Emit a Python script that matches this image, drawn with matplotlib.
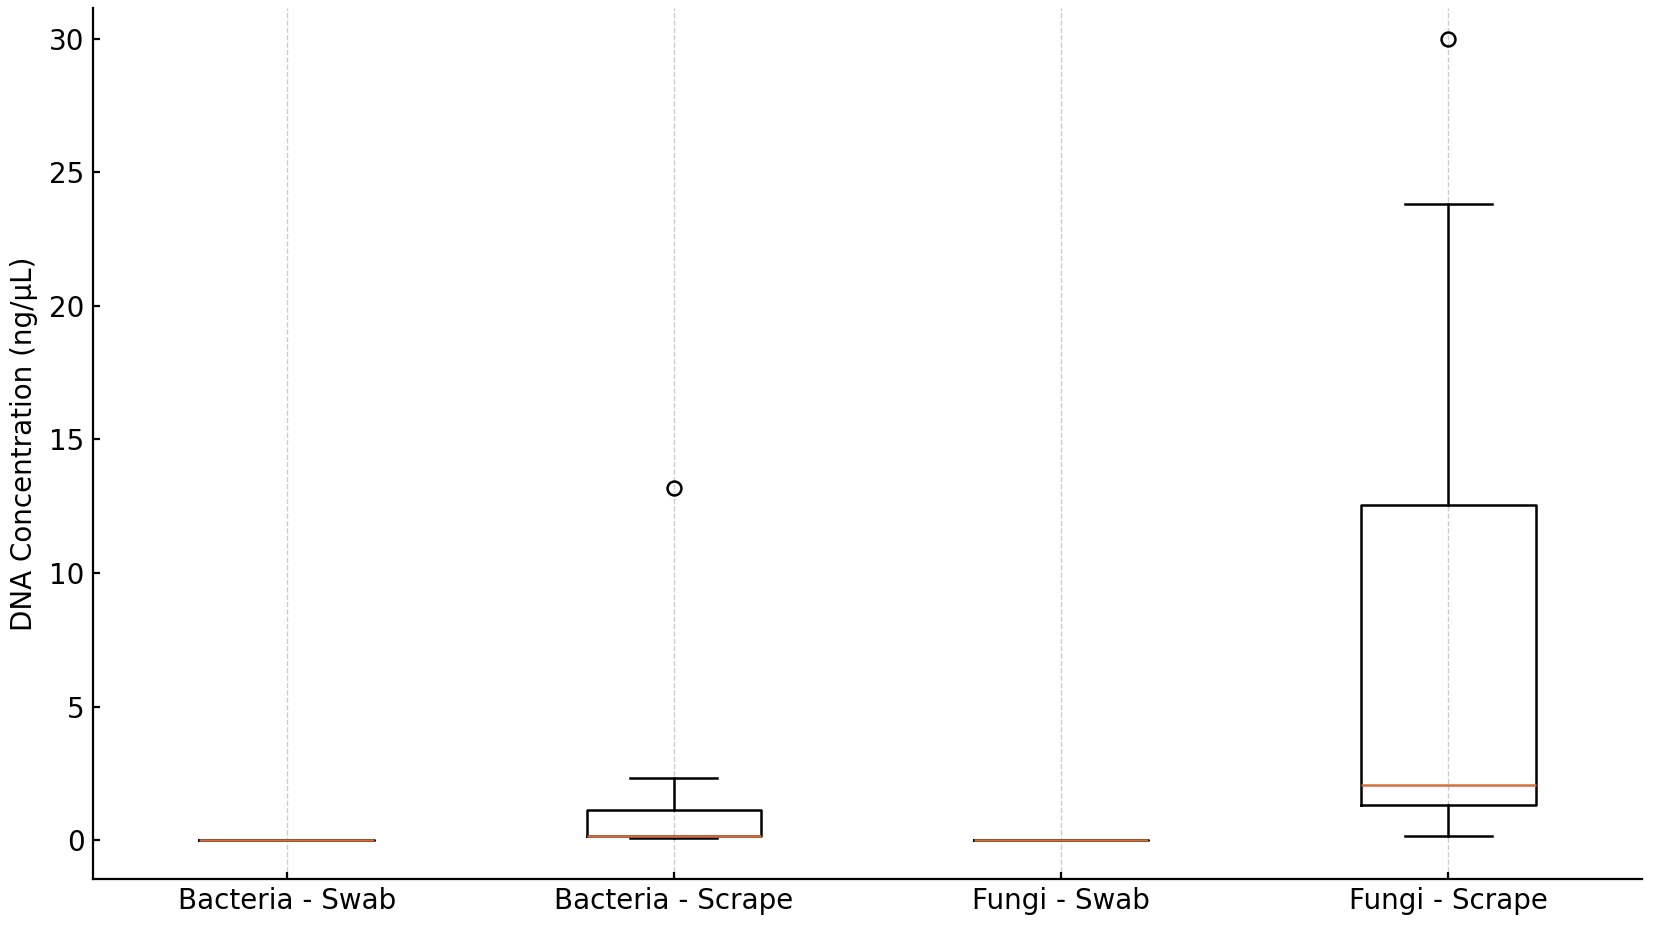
import matplotlib
matplotlib.use("Agg")
import matplotlib.pyplot as plt

# Values
categories = ["Bacteria - Swab", "Bacteria - Scrape", "Fungi - Swab", "Fungi - Scrape"]
medians = [0.0, 0.15, 0.0, 2.08]
q1 = [0.0, 0.15, 0.0, 1.33]
q3 = [0.0, 1.15, 0.0, 12.55]
whisker_low = [0.0, 0.07, 0.0, 0.15]
whisker_high = [0.0, 2.33, 0.0, 23.8]
outliers = [[], [13.2], [], [30.0]]

stats = []
for i, name in enumerate(categories):
    stats.append({
        "label": name,
        "med": medians[i],
        "q1": q1[i],
        "q3": q3[i],
        "whislo": whisker_low[i],
        "whishi": whisker_high[i],
        "fliers": outliers[i],
    })

fig = plt.figure(figsize=(16.54, 9.26), dpi=100)
ax = fig.add_axes([93 / 1654, 1 - 879 / 926, (1642 - 93) / 1654, (879 - 8) / 926])

lw = 1.8
ax.bxp(stats, positions=[1, 2, 3, 4], widths=0.45,
       boxprops=dict(color="black", linewidth=lw),
       whiskerprops=dict(color="black", linewidth=lw),
       capprops=dict(color="black", linewidth=lw),
       medianprops=dict(color="#d2703c", linewidth=lw),
       flierprops=dict(marker="o", markerfacecolor="none", markeredgecolor="black",
                       markersize=10, markeredgewidth=1.8))

ax.set_xlim(0.5, 4.5)
ax.set_ylim(-1.45, 31.15)
ax.set_yticks([0, 5, 10, 15, 20, 25, 30])
ax.set_ylabel("DNA Concentration (ng/μL)", fontsize=20, labelpad=8)
ax.xaxis.grid(True, color="#cccccc", linestyle="--", linewidth=1.0)
ax.set_axisbelow(True)

for side in ["top", "right"]:
    ax.spines[side].set_visible(False)
for side in ["left", "bottom"]:
    ax.spines[side].set_linewidth(1.6)

ax.tick_params(direction="in", length=5, width=1.6, labelsize=20, pad=6)

fig.savefig("out.png", dpi=100)
